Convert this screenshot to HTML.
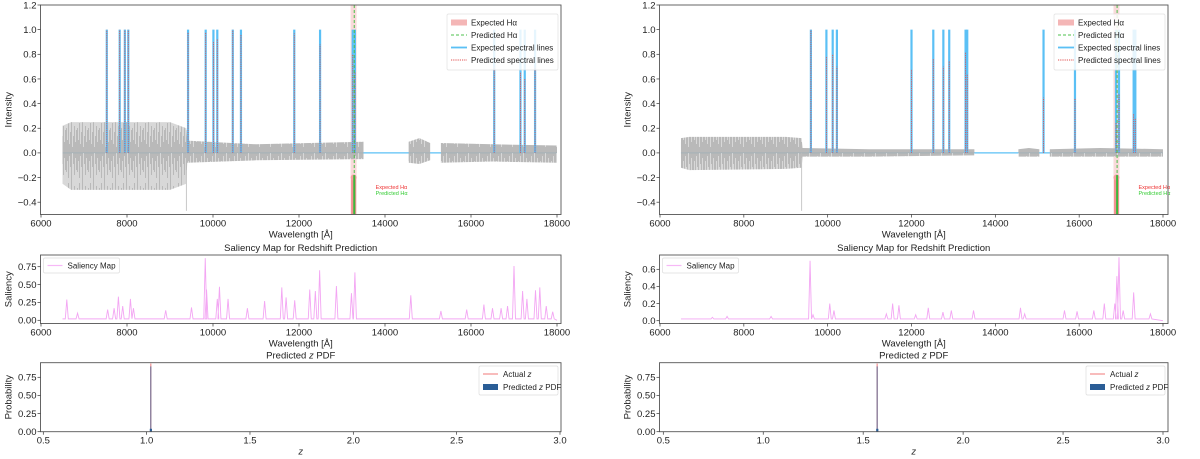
<!DOCTYPE html>
<html><head><meta charset="utf-8">
<style>
body{margin:0;background:#fff;font-family:"Liberation Sans","DejaVu Sans",sans-serif;}
svg{display:block}
text{font-family:"Liberation Sans","DejaVu Sans",sans-serif;}
</style></head>
<body>
<svg id="fig" width="1200" height="459" viewBox="0 0 1200 459" xmlns="http://www.w3.org/2000/svg"></svg>
<script>
// ---------- data ----------
const leftLines=[7530,7830,7950,8030,9420,9830,10010,10100,10460,10650,11890,12490,13250,13300,16540,17150,17250,17490];
const leftPred=[1.0,1.0,1.0,1.0,0.98,0.98,0.9,0.92,1.0,0.96,0.97,0.88,0.8,0.66,0.7,0.65,0.6,0.7];
const leftHaExp=13270, leftHaPred=13285;
const leftNoiseX=[6500,6700,9000,9380,9400,11000,13500,14550,14800,15050,15300,16500,18000];
const leftNoiseHi=[0.22,0.25,0.25,0.2,0.1,0.07,0.09,0.09,0.12,0.08,0.08,0.07,0.06];
const leftNoiseLo=[-0.25,-0.3,-0.3,-0.25,-0.08,-0.06,-0.05,-0.08,-0.09,-0.06,-0.08,-0.07,-0.08];
const leftSalX=[6600,6850,7550,7700,7800,7900,8080,8150,8900,9500,9820,9850,10100,10150,10350,10800,11200,11600,11700,11900,12250,12380,12480,12870,13220,13300,14600,15300,15900,16300,16500,16700,16850,17000,17200,17300,17500,17600,17750,17900];
const leftSalY=[0.29,0.1,0.15,0.17,0.33,0.2,0.3,0.17,0.14,0.18,0.87,0.43,0.3,0.47,0.3,0.17,0.27,0.46,0.32,0.28,0.43,0.41,0.7,0.48,0.38,0.67,0.35,0.13,0.15,0.22,0.17,0.17,0.2,0.76,0.41,0.3,0.42,0.46,0.2,0.12];
const leftZ=1.02, leftZProb=0.94;

const rightLines=[9600,9970,10120,10220,12000,12520,12760,12900,13290,13330,15150,15900,16880,16950,17300,17340];
const rightPred=[1.0,0.78,0.8,0.7,0.68,0.76,0.7,0.75,0.82,0.64,0.45,0.44,0.25,0.48,0.32,0.28];
const rightHaExp=16890, rightHaPred=16905;
const rightNoiseX=[6500,6700,9000,9380,9400,11000,13500,14550,14800,15050,15300,16500,18000];
const rightNoiseHi=[0.12,0.13,0.13,0.12,0.04,0.03,0.03,0.03,0.04,0.03,0.03,0.04,0.03];
const rightNoiseLo=[-0.12,-0.14,-0.13,-0.12,-0.03,-0.03,-0.02,-0.03,-0.03,-0.03,-0.03,-0.03,-0.03];
const rightSalX=[7250,7600,8650,9580,9650,10050,10150,11400,11550,11700,12100,12400,12750,12950,13480,14600,14700,15650,15950,16350,16600,16850,16900,16950,17050,17300,17700];
const rightSalY=[0.04,0.05,0.05,0.7,0.07,0.2,0.12,0.08,0.2,0.18,0.07,0.15,0.1,0.12,0.12,0.15,0.08,0.12,0.11,0.12,0.2,0.2,0.52,0.74,0.12,0.33,0.08];
const rightZ=1.57, rightZProb=0.94;

const topTicks=[-0.4,-0.2,0.0,0.2,0.4,0.6,0.8,1.0,1.2];
const waveTicks=[6000,8000,10000,12000,14000,16000,18000];
const leftSalTicks=[0.00,0.25,0.50,0.75];
const rightSalTicks=[0.0,0.2,0.4,0.6];
const zTicks=[0.5,1.0,1.5,2.0,2.5,3.0];
const probTicks=[0.00,0.25,0.50,0.75];

// ---------- helpers ----------
const NS="http://www.w3.org/2000/svg";
const svg=document.getElementById('fig');
function mk(tag,attrs,parent,txt){const e=document.createElementNS(NS,tag);for(const k in attrs)e.setAttribute(k,attrs[k]);if(txt!==undefined)e.textContent=txt;(parent||svg).appendChild(e);return e;}
function lin(d0,d1,r0,r1){return v=>r0+(v-d0)/(d1-d0)*(r1-r0);}

// noise texture pattern (styling only)
const defs=mk('defs',{});
const pat=mk('pattern',{id:'noiseTex',patternUnits:'userSpaceOnUse',width:11,height:60},defs);
mk('rect',{x:0,y:0,width:11,height:60,fill:'#d4d4d4'},pat);
[[0.5,8,52],[1.5,20,41],[2.5,3,58],[3.5,24,36],[4.5,12,47],[5.5,0,60],[6.5,27,33],[7.5,16,44],[8.5,6,55],[9.5,22,38],[10.5,10,50]].forEach(a=>mk('line',{x1:a[0],y1:a[1],x2:a[0],y2:a[2],stroke:'#9a9a9a','stroke-width':0.6},pat));

function axesFrame(g,L,T,R,B,xs,ys,xt,yt,fmtX,fmtY,xlabel,ylabel,title){
  mk('rect',{x:L,y:T,width:R-L,height:B-T,fill:'none',stroke:'#555','stroke-width':0.9},g);
  xt.forEach(v=>{const x=xs(v);mk('line',{x1:x,y1:B,x2:x,y2:B+3,stroke:'#333','stroke-width':0.7},g);
    const t=mk('text',{x:x,y:B+12,'font-size':9.5,'text-anchor':'middle',fill:'#222'},g,fmtX(v));
    });
  yt.forEach(v=>{const y=ys(v);mk('line',{x1:L-3,y1:y,x2:L,y2:y,stroke:'#333','stroke-width':0.7},g);
    const t=mk('text',{x:L-4,y:y+3.3,'font-size':9.5,'text-anchor':'end',fill:'#222'},g,fmtY(v));
    });
  if(xlabel){const t=mk('text',{x:(L+R)/2,y:B+23,'font-size':9.5,'text-anchor':'middle',fill:'#222','font-style':xlabel==='z'?'italic':'normal'},g,xlabel);
    }
  if(ylabel){const cy=(T+B)/2;const t=mk('text',{x:0,y:0,'font-size':9.5,'text-anchor':'middle',fill:'#222',transform:`translate(${L-29},${cy}) rotate(-90)`},g,ylabel);
    }
  if(title){const t=mk('text',{x:(L+R)/2,y:T-4,'font-size':9.5,'text-anchor':'middle',fill:'#222'},g,title);
    }
}

function panel(d){
  const g=mk('g',{});
  
  
  const L=d.L,R=d.R;
  const xs=lin(6000,18000,d.x6,d.x18);
  const T=5,B=214.5;
  const ys=lin(-0.4,1.2,202.2,5);
  const gs=mk('g',{},g);
  
  const hb=mk('rect',{x:xs(d.haExp)-3,y:T,width:6,height:B-T,fill:'#f4b6b6',opacity:0.5},gs);
  
  const bl=mk('line',{x1:xs(6500),y1:ys(0),x2:xs(18000),y2:ys(0),stroke:'#5bc0f5','stroke-width':1.2},gs);
  
  const segs=[[0,6],[7,9],[10,12]];
  segs.forEach(s=>{
    const p=[];for(let i=s[0];i<=s[1];i++)p.push(xs(d.noiseX[i])+','+ys(d.noiseHi[i]));
    for(let i=s[1];i>=s[0];i--)p.push(xs(d.noiseX[i])+','+ys(d.noiseLo[i]));
    const pg=mk('polygon',{points:p.join(' '),fill:'url(#noiseTex)',opacity:0.9},gs);
    
  });
  const spike=mk('line',{x1:xs(9380),y1:ys(0),x2:xs(9380),y2:ys(-0.47),stroke:'#bbb','stroke-width':0.8},gs);
  
  d.lines.forEach((w,i)=>{
    const e=mk('line',{x1:xs(w),y1:ys(0),x2:xs(w),y2:ys(1.0),stroke:'#5bc0f5','stroke-width':2.2},gs);
    
    const p=mk('line',{x1:xs(w),y1:ys(0),x2:xs(w),y2:ys(d.pred[i]),stroke:'#e05050','stroke-width':0.9,'stroke-dasharray':'1.2,1'},gs);
    
  });
  const ph=mk('line',{x1:xs(d.haPred),y1:T,x2:xs(d.haPred),y2:B,stroke:'#4cc04c','stroke-width':1,'stroke-dasharray':'3,2'},gs);
  
  const ea=mk('rect',{x:xs(d.haExp)-2.5,y:ys(-0.2),width:5,height:B-ys(-0.2),fill:'#f08080',opacity:0.8},gs);
  
  mk('circle',{cx:xs(d.haExp),cy:ys(-0.2),r:3,fill:'#f5a0a0'},gs);
  const pa=mk('rect',{x:xs(d.haPred)-1,y:ys(-0.18),width:2,height:B-ys(-0.18),fill:'#3cb83c'},gs);
  
  const t1=mk('text',{x:xs(d.haExp)+d.annDx,y:189,'font-size':5.5,fill:'#e33'},gs,'Expected Hα');
  
  const t2=mk('text',{x:xs(d.haExp)+d.annDx,y:195,'font-size':5.5,fill:'#3c3'},gs,'Predicted Hα');
  
  axesFrame(g,L,T,R,B,xs,ys,waveTicks,topTicks,v=>String(v),v=>(v<0?'−':'')+Math.abs(v).toFixed(1),'Wavelength [Å]','Intensity',null);
  const lg=mk('g',{},g);
  const lx=R-114;
  mk('rect',{x:lx,y:14,width:111,height:56,fill:'#fff',opacity:0.85,stroke:'#ddd','stroke-width':0.7,rx:1.5},lg);
  const items=[['Expected Hα','band'],['Predicted Hα','green'],['Expected spectral lines','blue'],['Predicted spectral lines','red']];
  items.forEach((it,i)=>{const y=22.5+i*12.5;
    if(it[1]==='band')mk('rect',{x:lx+4,y:y-3,width:16,height:6,fill:'#f4b6b6'},lg);
    if(it[1]==='green')mk('line',{x1:lx+4,y1:y,x2:lx+20,y2:y,stroke:'#4cc04c','stroke-width':1,'stroke-dasharray':'3,2'},lg);
    if(it[1]==='blue')mk('line',{x1:lx+4,y1:y,x2:lx+20,y2:y,stroke:'#5bc0f5','stroke-width':1.8},lg);
    if(it[1]==='red')mk('line',{x1:lx+4,y1:y,x2:lx+20,y2:y,stroke:'#e05050','stroke-width':0.9,'stroke-dasharray':'1.2,1'},lg);
    const t=mk('text',{x:lx+24,y:y+3,'font-size':8,fill:'#222'},lg,it[0]);
    });

  const T2=255,B2=323.5;
  const ys2=lin(0,d.salMaxTick,d.salZeroY,d.salTopTickY);
  const gs2=mk('g',{},g);
  const base=0.02, sp=[];
  sp.push(xs(6500)+','+ys2(base));
  d.salX.forEach((x,i)=>{sp.push(xs(x-35)+','+ys2(base));sp.push(xs(x)+','+ys2(d.salY[i]));sp.push(xs(x+35)+','+ys2(base));});
  sp.push(xs(18000)+','+ys2(0));
  const sl=mk('polyline',{points:sp.join(' '),fill:'none',stroke:'#f3a6f3','stroke-width':0.9},gs2);
  
  axesFrame(g,L,T2,R,B2,xs,ys2,waveTicks,d.salTicks,v=>String(v),v=>v.toFixed(d.salDec),'Wavelength [Å]','Saliency','Saliency Map for Redshift Prediction');
  const sg=mk('g',{},g);
  mk('rect',{x:L+3,y:258,width:76,height:15,fill:'#fff',stroke:'#ddd','stroke-width':0.7,rx:1.5},sg);
  mk('line',{x1:L+7,y1:265.5,x2:L+22,y2:265.5,stroke:'#f7b8f7','stroke-width':1.2},sg);
  const st=mk('text',{x:L+27,y:268.5,'font-size':8,fill:'#222'},sg,'Saliency Map');
  

  const T3=362.7,B3=431.7;
  const xs3=lin(0.5,3.0,d.z05,d.z30);
  const ys3=lin(0,0.75,B3,377.3);
  const gs3=mk('g',{},g);
  const az=mk('line',{x1:xs3(d.z),y1:ys3(0),x2:xs3(d.z),y2:ys3(d.zProb),stroke:'#f4a0a0','stroke-width':1.4},gs3);
  
  const pb=mk('rect',{x:xs3(d.z)-0.6,y:ys3(0.9),width:1.2,height:ys3(0)-ys3(0.9),fill:'#2a5d96',opacity:0.6},gs3);
  
  const pb2=mk('rect',{x:xs3(d.z)-1,y:ys3(0.04),width:2.2,height:ys3(0)-ys3(0.04),fill:'#2a5d96'},gs3);
  
  axesFrame(g,L,T3,R,B3,xs3,ys3,zTicks,probTicks,v=>v.toFixed(1),v=>v.toFixed(2),'z','Probability',null);
  const pt=mk('text',{x:(L+R)/2,y:T3-4,'font-size':9.5,'text-anchor':'middle',fill:'#222'},g);
  
  mk('tspan',{},pt,'Predicted ');mk('tspan',{'font-style':'italic'},pt,'z');mk('tspan',{},pt,' PDF');
  const pl=mk('g',{},g);
  mk('rect',{x:R-82,y:366,width:79,height:29,fill:'#fff',stroke:'#ddd','stroke-width':0.7,rx:1.5},pl);
  mk('line',{x1:R-78,y1:374,x2:R-63,y2:374,stroke:'#f4a0a0','stroke-width':1.4},pl);
  mk('rect',{x:R-78,y:384,width:15,height:6,fill:'#2a5d96'},pl);
  const l1=mk('text',{x:R-58,y:377,'font-size':8,fill:'#222'},pl);
  
  mk('tspan',{},l1,'Actual ');mk('tspan',{'font-style':'italic'},l1,'z');
  const l2=mk('text',{x:R-58,y:390,'font-size':8,fill:'#222'},pl);
  
  mk('tspan',{},l2,'Predicted ');mk('tspan',{'font-style':'italic'},l2,'z');mk('tspan',{},l2,' PDF');
}

panel({name:'left-panel',L:40.5,R:561,x6:41,x18:557,z05:43.3,z30:560,annDx:22,
  lines:leftLines,pred:leftPred,haExp:leftHaExp,haPred:leftHaPred,
  noiseX:leftNoiseX,noiseHi:leftNoiseHi,noiseLo:leftNoiseLo,
  salX:leftSalX,salY:leftSalY,salTicks:leftSalTicks,salMaxTick:0.75,salZeroY:320.3,salTopTickY:266.7,salDec:2,
  z:leftZ,zProb:leftZProb});
panel({name:'right-panel',L:659.5,R:1168,x6:660,x18:1163,z05:663.3,z30:1163,annDx:22,
  lines:rightLines,pred:rightPred,haExp:rightHaExp,haPred:rightHaPred,
  noiseX:rightNoiseX,noiseHi:rightNoiseHi,noiseLo:rightNoiseLo,
  salX:rightSalX,salY:rightSalY,salTicks:rightSalTicks,salMaxTick:0.6,salZeroY:320.7,salTopTickY:269.3,salDec:1,
  z:rightZ,zProb:rightZProb});
</script>
</body></html>
